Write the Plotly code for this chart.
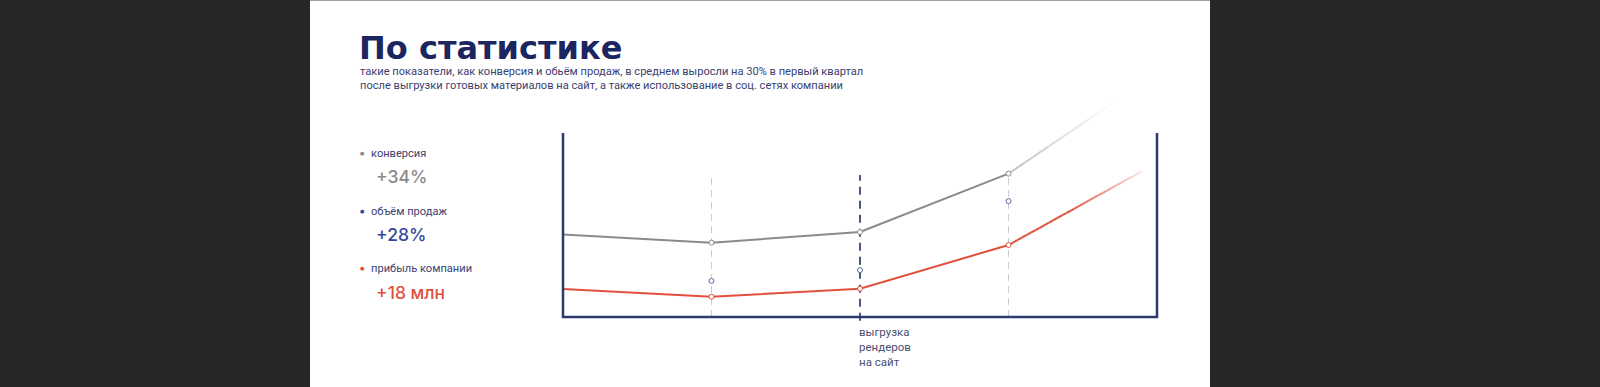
import plotly.graph_objects as go

W, H = 1600, 387

# ---- data ----
x_points = [0, 1, 2, 3]
conversion = [44.9, 40.4, 46.2, 77.9]
conversion_tail = [3.71, 116.8]
profit = [15.2, 11.0, 15.4, 39.1]
profit_tail = [3.9, 79.3]
sales_x = [1, 2, 3]
sales = [19.6, 25.5, 63.0]
event_x = 2
event_label = "выгрузка<br>рендеров<br>на сайт"
guide_x = [1, 3]

title = "По статистике"
subtitle = ("такие показатели, как конверсия и обьём продаж, в среднем выросли на 30% в первый квартал<br>"
            "после выгрузки готовых материалов на сайт, а также использование в соц. сетях компании")
legend_names = ["конверсия", "объём продаж", "прибыль компании"]
legend_values = ["+34%", "+28%", "+18 млн"]

GRAY = "#8a8a8a"
BLUE = "#34489a"
RED = "#e0503c"
NAVY = "#1b2560"
AXIS = "#2c3a70"
TXT = "#3a4170"

def px(x):
    return x / W

def py(y):
    return 1 - y / H

# axes mapping: x 0..4 -> 563..1157 px ; y 0..100 -> 317..133 px
xr = [-0.2, 4.2]
ux = (1157 - 563) / 4.0
yr = [-5, 130]
uy = (317 - 133) / 100.0
x_dom = [px(563 + xr[0] * ux), px(563 + xr[1] * ux)]
y_dom = [py(317 - yr[0] * uy), py(317 - yr[1] * uy)]

fig = go.Figure()

def hex_rgb(h):
    h = h.lstrip("#")
    return tuple(int(h[i:i + 2], 16) for i in (0, 2, 4))

def fading_tail(x0, y0, x1, y1, color, a_start, a_end, hold, n=30):
    r, g, b = hex_rgb(color)
    for i in range(n):
        t0, t1 = i / n, (i + 1) / n
        tm = (t0 + t1) / 2
        if tm < hold:
            a = a_start
        else:
            a = a_start + (a_end - a_start) * (tm - hold) / (1 - hold)
        fig.add_trace(go.Scatter(
            x=[x0 + (x1 - x0) * t0, x0 + (x1 - x0) * t1],
            y=[y0 + (y1 - y0) * t0, y0 + (y1 - y0) * t1],
            mode="lines", line=dict(color=f"rgba({r},{g},{b},{a:.3f})", width=2),
            hoverinfo="skip", showlegend=False))

# main lines
fig.add_trace(go.Scatter(x=x_points, y=conversion, mode="lines",
                         line=dict(color=GRAY, width=2), showlegend=False))
fig.add_trace(go.Scatter(x=x_points, y=profit, mode="lines",
                         line=dict(color=RED, width=2), showlegend=False))
fading_tail(x_points[-1], conversion[-1], conversion_tail[0], conversion_tail[1], GRAY, 0.55, 0.0, 0.0)
fading_tail(x_points[-1], profit[-1], profit_tail[0], profit_tail[1], RED, 1.0, 0.12, 0.45)

# markers
fig.add_trace(go.Scatter(x=x_points[1:], y=conversion[1:], mode="markers",
                         marker=dict(size=5, color="white", line=dict(color=GRAY, width=1)),
                         showlegend=False))
fig.add_trace(go.Scatter(x=x_points[1:], y=profit[1:], mode="markers",
                         marker=dict(size=5, color="white", line=dict(color=RED, width=1)),
                         showlegend=False))
fig.add_trace(go.Scatter(x=sales_x, y=sales, mode="markers",
                         marker=dict(size=5, color="white", line=dict(color="#5a6aa0", width=1)),
                         showlegend=False))

shapes = []
# slide background
shapes.append(dict(type="rect", xref="paper", yref="paper", x0=px(310), x1=px(1210), y0=0, y1=1,
                   fillcolor="white", line=dict(width=0), layer="below"))
shapes.append(dict(type="line", xref="paper", yref="paper", x0=px(310), x1=px(1210), y0=py(0.5), y1=py(0.5),
                   line=dict(color="#a0a0a0", width=1), layer="below"))
# guides
for gx in guide_x:
    shapes.append(dict(type="line", xref="x", yref="y", x0=gx, x1=gx, y0=0, y1=77.2,
                       line=dict(color="#c8ccd6", width=1, dash="7px,5px"), layer="below"))
shapes.append(dict(type="line", xref="x", yref="y", x0=event_x, x1=event_x, y0=-2, y1=77.2,
                   line=dict(color="#4a5580", width=2, dash="8px,6px"), layer="below"))
# axis box (left, bottom, right)
shapes.append(dict(type="path", xref="x", yref="y",
                   path="M 0 100 L 0 0 L 4 0 L 4 100",
                   line=dict(color=AXIS, width=2.5)))
fig.update_layout(shapes=shapes)

ann = []
ann.append(dict(text=title, x=px(357), y=py(48), xref="paper", yref="paper", xanchor="left",
                yanchor="middle", showarrow=False,
                font=dict(family="DejaVu Sans", size=32, color=NAVY, weight=700)))
ann.append(dict(text=subtitle, x=px(358), y=py(78.5), xref="paper", yref="paper", xanchor="left",
                yanchor="middle", showarrow=False, align="left",
                font=dict(family="Roboto", size=11.1, color=TXT)))
colors = [GRAY, BLUE, RED]
name_y = [153, 211, 268]
val_y = [177, 234, 292]
for i in range(3):
    ann.append(dict(text="●", x=px(362), y=py(name_y[i]), xref="paper", yref="paper", xanchor="center",
                    yanchor="middle", showarrow=False, font=dict(family="DejaVu Sans", size=5, color=colors[i])))
    ann.append(dict(text=legend_names[i], x=px(369), y=py(name_y[i]), xref="paper", yref="paper",
                    xanchor="left", yanchor="middle", showarrow=False,
                    font=dict(family="Roboto", size=11.1, color=TXT)))
    ann.append(dict(text=legend_values[i], x=px(374), y=py(val_y[i]), xref="paper", yref="paper",
                    xanchor="left", yanchor="middle", showarrow=False,
                    font=dict(family="Inter", size=17.5, color=colors[i], weight=500)))
ann.append(dict(text=event_label, x=event_x, y=-3.5, xref="x", yref="y", xanchor="left", yanchor="top",
                xshift=-3, showarrow=False, align="left",
                font=dict(family="Roboto", size=11.5, color="#4a5070")))

fig.update_layout(
    annotations=ann,
    width=W, height=H,
    margin=dict(l=0, r=0, t=0, b=0),
    paper_bgcolor="#272727",
    plot_bgcolor="rgba(0,0,0,0)",
    xaxis=dict(range=xr, domain=x_dom, visible=False, fixedrange=True),
    yaxis=dict(range=yr, domain=y_dom, visible=False, fixedrange=True),
    showlegend=False,
)

fig.write_html("out.html", config={"displayModeBar": False},
               post_script="document.body.style.margin='0px';document.body.style.backgroundColor='#272727';document.body.style.overflow='hidden';")
